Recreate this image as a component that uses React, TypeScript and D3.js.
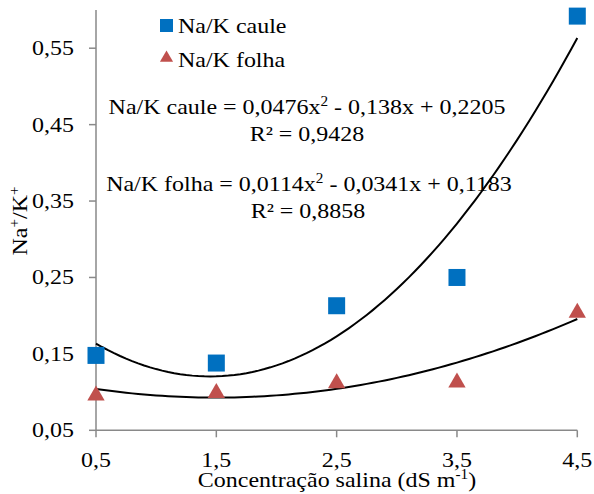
import * as d3 from "d3";
import type { ReactNode } from "react";

const concentrations = [0.5, 1.5, 2.5, 3.5, 4.5];
const cauleValues = [0.148, 0.138, 0.213, 0.25, 0.592];
const folhaValues = [0.097, 0.1, 0.113, 0.114, 0.205];

// trendline coefficients [a, b, c] for a*x^2 + b*x + c
const cauleCoef = [0.0476, -0.138, 0.2205];
const folhaCoef = [0.0114, -0.0341, 0.1183];

const yTicks = [0.05, 0.15, 0.25, 0.35, 0.45, 0.55];
const xTicks = [0.5, 1.5, 2.5, 3.5, 4.5];

const FONT = "Liberation Serif";
const FS = 22;
const STRETCH = 1.09; // the source text is a little wider than Liberation Serif
const BLUE = "#0070C0";
const RED = "#C0504D";
const AXIS = "#898989";

const fmt = (v: number, d: number) => v.toFixed(d).replace(".", ",");

const x = d3.scaleLinear().domain([0.5, 4.5]).range([96, 577.3]);
const y = d3.scaleLinear().domain([0.05, 0.6]).range([430.3, 10]);

const poly = (c: number[]) => (v: number) => c[0] * v * v + c[1] * v + c[2];
const xs = d3.range(0.5, 4.5001, 0.05);
const trend = (c: number[]) => {
  const f = poly(c);
  return d3.line<number>().x((v) => x(v)).y((v) => y(f(v)))(xs) as string;
};

const triBig = d3.symbol(d3.symbolTriangle, 130)() as string;
const triSmall = d3.symbol(d3.symbolTriangle, 75)() as string;

function T({ x, y, anchor = "start", rotate = 0, children }: {
  x: number; y: number; anchor?: string; rotate?: number; children: ReactNode;
}) {
  return (
    <g transform={`translate(${x},${y}) rotate(${rotate}) scale(${STRETCH},1)`}>
      <text x={0} y={0} textAnchor={anchor} fontFamily={FONT} fontSize={FS}>{children}</text>
    </g>
  );
}

const sup = (s: string) => (
  <tspan dy={-8} fontSize={14}>{s}</tspan>
);

export default function App() {
  const sq = 17;
  const x0 = x(0.5);
  const yb = y(0.05);
  return (
    <div style={{ width: 578, height: 478 }}>
      <svg
        width={594}
        height={494}
        style={{ display: "block", position: "fixed", left: 0, top: 0, background: "#fff" }}
        fontFamily={FONT}
        fontSize={FS}
      >
        {/* axes */}
        <line x1={x0} x2={x0} y1={y(0.6)} y2={yb} stroke={AXIS} strokeWidth={1.5} />
        <line x1={x0} x2={x(4.5)} y1={yb} y2={yb} stroke={AXIS} strokeWidth={1.5} />
        {yTicks.map((t) => (
          <g key={"y" + t}>
            <line x1={x0 - 7} x2={x0} y1={y(t)} y2={y(t)} stroke={AXIS} strokeWidth={1.5} />
            <T x={74} y={y(t) + 7} anchor="end">{fmt(t, 2)}</T>
          </g>
        ))}
        {xTicks.map((t) => (
          <g key={"x" + t}>
            <line x1={x(t)} x2={x(t)} y1={yb} y2={yb + 7} stroke={AXIS} strokeWidth={1.5} />
            <T x={x(t)} y={467} anchor="middle">{fmt(t, 1)}</T>
          </g>
        ))}

        {/* trendlines */}
        {[cauleCoef, folhaCoef].map((c, i) => (
          <path key={"t" + i} d={trend(c)} fill="none" stroke="#000" strokeWidth={2} />
        ))}

        {/* markers */}
        {concentrations.map((d, i) => (
          <rect key={"c" + i} x={x(d) - sq / 2} y={y(cauleValues[i]) - sq / 2} width={sq} height={sq} fill={BLUE} />
        ))}
        {concentrations.map((d, i) => (
          <path key={"f" + i} d={triBig} transform={`translate(${x(d)},${y(folhaValues[i]) + 1})`} fill={RED} />
        ))}

        {/* legend */}
        <rect x={160} y={19} width={13} height={13} fill={BLUE} />
        <T x={178} y={33}>Na/K caule</T>
        <path d={triSmall} transform="translate(166.5,58)" fill={RED} />
        <T x={178} y={67}>Na/K folha</T>

        {/* equations */}
        <T x={307} y={114} anchor="middle">
          Na/K caule = 0,0476x{sup("2")}<tspan dy={8}> - 0,138x + 0,2205</tspan>
        </T>
        <T x={307} y={141} anchor="middle">R² = 0,9428</T>
        <T x={309} y={191} anchor="middle">
          Na/K folha = 0,0114x{sup("2")}<tspan dy={8}> - 0,0341x + 0,1183</tspan>
        </T>
        <T x={308} y={218} anchor="middle">R² = 0,8858</T>

        {/* axis titles */}
        <T x={27} y={221} anchor="middle" rotate={-90}>
          Na{sup("+")}<tspan dy={8}>/K</tspan><tspan dy={-8} fontSize={14}>+</tspan>
        </T>
        <T x={337} y={487} anchor="middle">
          Concentração salina (dS m{sup("-1")}<tspan dy={8}>)</tspan>
        </T>
      </svg>
    </div>
  );
}
